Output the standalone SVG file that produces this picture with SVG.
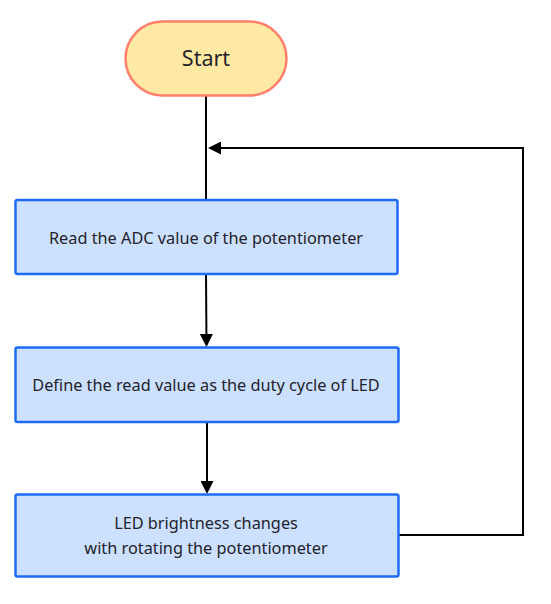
<svg xmlns="http://www.w3.org/2000/svg" width="551" height="604" viewBox="0 0 551 604">
<defs>
<marker id="ah" markerWidth="13" markerHeight="13" refX="11" refY="6.5" orient="auto" markerUnits="userSpaceOnUse">
<path d="M0,0 L13,6.5 L0,13 Z" fill="#000"/>
</marker>
<style>
.box{fill:#CCE0FF;stroke:#1E6BF5;stroke-width:2.5}
.start{fill:#FFE9A3;stroke:#FF7F6B;stroke-width:2.5}
.t{font-family:"Noto Sans","Open Sans",sans-serif;fill:#23232B;text-anchor:middle}
.c{fill:none;stroke:#000;stroke-width:2}
</style>
</defs>
<rect width="551" height="604" fill="#fff"/>
<g id="connectors">
<path class="c" d="M206,95 L206,200"/>
<path class="c" d="M206,274 L206.5,345" marker-end="url(#ah)"/>
<path class="c" d="M207,422 L207,492" marker-end="url(#ah)"/>
<path class="c" d="M398,535 L523,535 L523,148 L210,148" marker-end="url(#ah)"/>
</g>
<g id="start">
<rect class="start" x="125.5" y="21.5" width="161" height="74" rx="37"/>
<text class="t" x="206" y="65.5" font-size="21.5">Start</text>
</g>
<g id="read">
<rect class="box" x="15.5" y="200" width="382" height="74" rx="2"/>
<text class="t" x="206" y="243.5" font-size="16.3">Read the ADC value of the potentiometer</text>
</g>
<g id="define">
<rect class="box" x="15.5" y="347.5" width="383" height="74.5" rx="2"/>
<text class="t" x="206" y="390.5" font-size="16.3">Define the read value as the duty cycle of LED</text>
</g>
<g id="led">
<rect class="box" x="15.5" y="494.5" width="383" height="82" rx="2"/>
<text class="t" x="206" y="529" font-size="16.3">LED brightness changes</text>
<text class="t" x="206" y="554" font-size="16.3">with rotating the potentiometer</text>
</g>
</svg>
